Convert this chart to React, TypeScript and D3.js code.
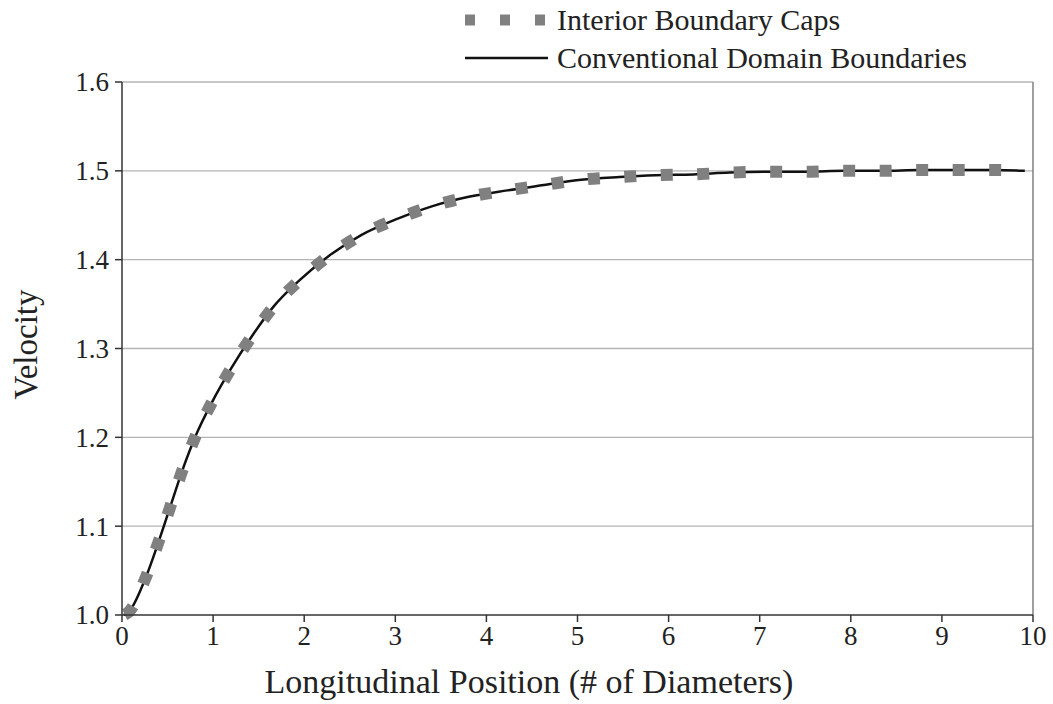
import React from 'react';
import * as d3 from 'd3';

// positions (diameters) and velocity
const positions = [0.02, 0.07, 0.26, 0.4, 0.53, 0.66, 0.81, 0.99, 1.2, 1.42, 1.67, 1.95, 2.28, 2.63, 3.02, 3.4, 3.82, 4.23, 4.63, 5.04, 5.46, 5.86, 6.27, 6.67, 7.09, 7.51, 7.93, 8.34, 8.76, 9.18, 9.58, 9.91];
const velocity = [1.0, 1.003, 1.042, 1.082, 1.122, 1.162, 1.202, 1.24, 1.278, 1.313, 1.348, 1.377, 1.405, 1.428, 1.446, 1.46, 1.471, 1.478, 1.484, 1.49, 1.493, 1.495, 1.496, 1.498, 1.499, 1.499, 1.5, 1.5, 1.501, 1.501, 1.501, 1.5];

const xTicks = [0, 1, 2, 3, 4, 5, 6, 7, 8, 9, 10];
const yTicks = [1.0, 1.1, 1.2, 1.3, 1.4, 1.5, 1.6];
const seriesNames = ['Interior Boundary Caps', 'Conventional Domain Boundaries'];

const W = 1053;
const H = 704;
const margin = { top: 82, right: 20, bottom: 89, left: 122 };
const FONT = '"Liberation Serif", "Times New Roman", serif';

export default function App() {
  const x = d3.scaleLinear().domain([0, 10]).range([margin.left, W - margin.right]);
  const y = d3.scaleLinear().domain([1.0, 1.6]).range([H - margin.bottom, margin.top]);

  const pts = positions.map((p, i) => [p, velocity[i]] as [number, number]);
  const line = d3.line<[number, number]>()
    .x(d => x(d[0]))
    .y(d => y(d[1]))
    .curve(d3.curveMonotoneX);
  const path = line(pts) || '';

  const x0 = x(0), x1 = x(10), yb = y(1.0), yt = y(1.6);

  return (
    <svg width={W} height={H} style={{ position: 'absolute', left: 0, top: 0, background: '#fff' }} fontFamily={FONT}>
      {/* gridlines */}
      {yTicks.filter(t => t > 1.0).map(t => (
        <line key={t} x1={x0} x2={x1} y1={y(t)} y2={y(t)} stroke="#b4b4b4" strokeWidth={1.3} />
      ))}
      <line x1={x1} x2={x1} y1={yt} y2={yb} stroke="#808080" strokeWidth={1.5} />

      {/* series */}
      <path d={path} fill="none" stroke="#111" strokeWidth={2.5} />
      <path d={path} fill="none" stroke="#808080" strokeWidth={12} strokeDasharray="12 24.5" strokeDashoffset={-1} />

      {/* axes */}
      <line x1={x0} x2={x1} y1={yb} y2={yb} stroke="#333" strokeWidth={1.5} />
      <line x1={x0} x2={x0} y1={yt} y2={yb} stroke="#333" strokeWidth={1.5} />
      {xTicks.map(t => (
        <g key={t}>
          <line x1={x(t)} x2={x(t)} y1={yb} y2={yb + 7} stroke="#333" strokeWidth={1.5} />
          <text x={x(t)} y={yb + 30} textAnchor="middle" fontSize={27} fill="#222">{t}</text>
        </g>
      ))}
      {yTicks.map(t => (
        <g key={t}>
          <line x1={x0 - 7} x2={x0} y1={y(t)} y2={y(t)} stroke="#333" strokeWidth={1.5} />
          <text x={x0 - 13} y={y(t)} dy="0.35em" textAnchor="end" fontSize={27} fill="#222">{t.toFixed(1)}</text>
        </g>
      ))}

      {/* axis titles */}
      <text x={529} y={693} textAnchor="middle" fontSize={34} fill="#222">Longitudinal Position (# of Diameters)</text>
      <text transform={`translate(37,${(yt + yb) / 2 - 4}) rotate(-90)`} textAnchor="middle" fontSize={33} fill="#222">Velocity</text>

      {/* legend */}
      <line x1={465} x2={548} y1={58} y2={58} stroke="#111" strokeWidth={2.5} />
      <line x1={465} x2={548} y1={20} y2={20} stroke="#808080" strokeWidth={11} strokeDasharray="10 25" />
      <text x={557} y={30} fontSize={30} fill="#222">{seriesNames[0]}</text>
      <text x={557} y={68} fontSize={30} fill="#222">{seriesNames[1]}</text>
    </svg>
  );
}
